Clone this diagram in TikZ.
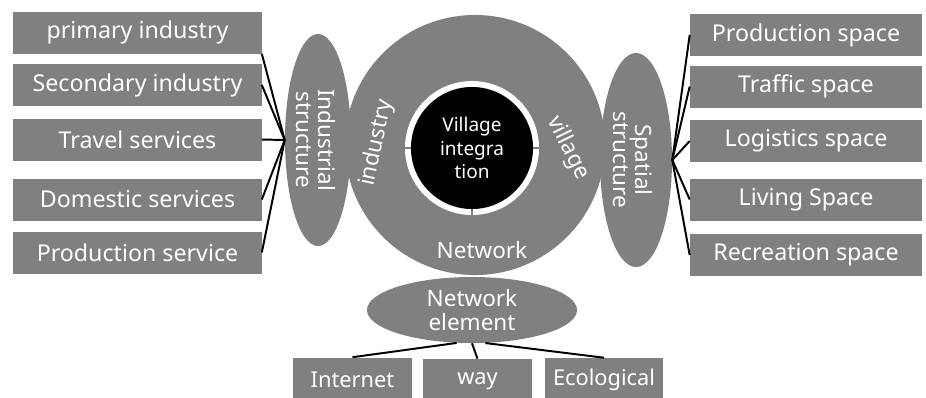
\documentclass[tikz,border=0pt]{standalone}
\usepackage{fontspec}
\setmainfont{Noto Sans}
\usepackage{tikz}
\usetikzlibrary{shapes.geometric, positioning}

\begin{document}
\begin{tikzpicture}[x=0.025cm, y=-0.025cm]

        % Define styles
        \tikzstyle{item} = [rectangle, fill=black!50, text=white, minimum height=1.05cm, inner sep=0pt, font=\fontsize{16.5}{18}\selectfont]
        \tikzstyle{struct} = [ellipse, fill=black!50, text=white, inner sep=0pt, align=center, font=\fontsize{16}{18}\selectfont]
        \tikzstyle{label} = [text=white, inner sep=0pt, font=\fontsize{16}{18}\selectfont]
        \tikzstyle{leaf} = [rectangle, fill=black!50, text=white, minimum height=1.1cm, inner sep=0pt, font=\fontsize{15.5}{17}\selectfont]
        \tikzstyle{line} = [draw, black, line width=1.4pt]

        \clip (0,0) rectangle (926,397);
        \fill [white] (0,0) rectangle (926,397);

        % Core circle
        \node [circle, fill=black!50, minimum size=6.5cm, inner sep=0pt] (ring) at (475,145) {};
        \node [struct, minimum width=1.65cm, minimum height=5.3cm] (indstruct) at (318,140) {};
        \node [struct, minimum width=1.8cm, minimum height=5.35cm] (spastruct) at (636,160) {};
        \node [struct, minimum width=5.25cm, minimum height=1.65cm] (netelem) at (472,310) {Network\\[-1pt]element};
        \node [circle, fill=white, minimum size=3.35cm, inner sep=0pt] (halo) at (472,148) {};
        \draw [black!50, line width=2pt] (halo.west) -- (halo.east);
        \draw [black!50, line width=2pt] (halo.center) -- (halo.south);
        \node [circle, fill=black, text=white, minimum size=3.05cm, inner sep=0pt, align=center, font=\fontsize{13.5}{16.5}\selectfont] (village) at (472,148) {Village\\integra\\tion};

        % Ring texts
        \node [label, rotate=78] (industry) at (377,143) {industry};
        \node [label, rotate=-64] (villagetxt) at (568,148) {village};
        \node [label] (network) at (482,250) {Network};
        \node [label, rotate=-90, align=center] (indtxt) at (316,140) {Industrial\\[-2pt]structure};
        \node [label, rotate=-90, align=center] (spatxt) at (633,160) {Spatial\\[-2pt]structure};

        % Industry side
        \node [item, minimum width=6.2cm] (primary) at (137.5,32.5) {primary industry};
        \node [item, minimum width=6.2cm] (secondary) at (137.5,85) {Secondary industry};
        \node [item, minimum width=6.2cm] (travel) at (137.5,139.5) {Travel services};
        \node [item, minimum width=6.2cm] (domestic) at (137.5,199.5) {Domestic services};
        \node [item, minimum width=6.2cm] (prodservice) at (137.5,252.5) {Production service};

        % Space side
        \node [item, minimum width=5.8cm] (prodspace) at (806,35) {Production space};
        \node [item, minimum width=5.8cm] (traffic) at (806,86.5) {Traffic space};
        \node [item, minimum width=5.8cm] (logistics) at (806,141) {Logistics space};
        \node [item, minimum width=5.8cm] (living) at (806,199.5) {Living Space};
        \node [item, minimum width=5.8cm] (recreation) at (806,255) {Recreation space};

        % Network elements
        \node [leaf, minimum width=2.975cm] (internet) at (352.5,379.5) {Internet};
        \node [leaf, minimum width=2.725cm] (way) at (477.5,381) {way};
        \node [leaf, minimum width=2.95cm] (ecological) at (604,380) {Ecological};

        % Draw edges
        \path [line] (primary.south east) -- (indstruct.west);
        \path [line] (secondary.east) -- (indstruct.west);
        \path [line] (travel.east) -- (indstruct.west);
        \path [line] (domestic.east) -- (indstruct.west);
        \path [line] (prodservice.east) -- (indstruct.west);

        \path [line] (spastruct.east) -- (prodspace.west);
        \path [line] (spastruct.east) -- (traffic.west);
        \path [line] (spastruct.east) -- (logistics.west);
        \path [line] (spastruct.east) -- (living.west);
        \path [line] (spastruct.east) -- (recreation.west);

        \path [line] (netelem.-115) -- (internet.north);
        \path [line] (netelem.south) -- (way.north);
        \path [line] (netelem.-68) -- (ecological.north);

    \end{tikzpicture}
\end{document}
